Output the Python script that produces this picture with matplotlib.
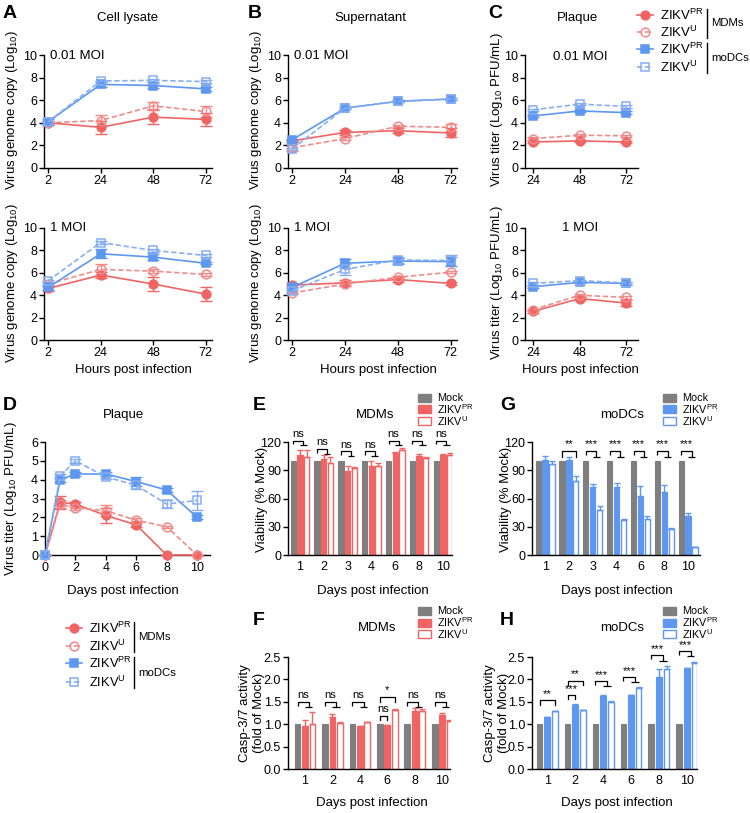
import matplotlib
matplotlib.use('Agg')
import matplotlib.pyplot as plt
from matplotlib.lines import Line2D
from matplotlib.patches import Rectangle
import numpy as np

plt.rcParams['font.family'] = ['Liberation Sans', 'DejaVu Sans']
plt.rcParams['mathtext.fontset'] = 'custom'
plt.rcParams['mathtext.rm'] = 'Liberation Sans'
plt.rcParams['mathtext.it'] = 'Liberation Sans:italic'
plt.rcParams['mathtext.bf'] = 'Liberation Sans:bold'

# ---------------- data ----------------
hours = ['2', '24', '48', '72']
hours_c = ['24', '48', '72']

# A: cell lysate
a1_mdm_pr = [4.0, 3.6, 4.5, 4.3];   a1_mdm_pr_e = [0.2, 0.6, 0.6, 0.6]
a1_mdm_u = [4.0, 4.2, 5.5, 5.0];    a1_mdm_u_e = [0.2, 0.5, 0.3, 0.5]
a1_dc_pr = [4.1, 7.4, 7.3, 7.0];    a1_dc_pr_e = [0.2, 0.2, 0.2, 0.15]
a1_dc_u = [4.1, 7.7, 7.75, 7.65];   a1_dc_u_e = [0.1, 0.1, 0.1, 0.1]
a2_mdm_pr = [4.6, 5.8, 5.0, 4.1];   a2_mdm_pr_e = [0.2, 0.3, 0.6, 0.6]
a2_mdm_u = [5.0, 6.3, 6.15, 5.85];  a2_mdm_u_e = [0.2, 0.5, 0.15, 0.1]
a2_dc_pr = [4.7, 7.7, 7.4, 6.85];   a2_dc_pr_e = [0.2, 0.4, 0.3, 0.1]
a2_dc_u = [5.3, 8.7, 8.0, 7.55];    a2_dc_u_e = [0.1, 0.1, 0.1, 0.1]

# B: supernatant
b1_mdm_pr = [2.4, 3.15, 3.3, 3.1];  b1_mdm_pr_e = [0.1, 0.2, 0.2, 0.4]
b1_mdm_u = [1.8, 2.6, 3.7, 3.6];    b1_mdm_u_e = [0.3, 0.1, 0.1, 0.3]
b1_dc_pr = [2.5, 5.3, 5.9, 6.1];    b1_dc_pr_e = [0.1, 0.1, 0.1, 0.1]
b1_dc_u = [1.7, 5.3, 5.9, 6.1];     b1_dc_u_e = [0.1, 0.1, 0.1, 0.1]
b2_mdm_pr = [4.9, 5.1, 5.4, 5.05];  b2_mdm_pr_e = [0.2, 0.3, 0.2, 0.1]
b2_mdm_u = [4.2, 5.0, 5.6, 6.05];   b2_mdm_u_e = [0.1, 0.1, 0.1, 0.1]
b2_dc_pr = [4.7, 6.85, 7.05, 7.0];  b2_dc_pr_e = [0.2, 0.4, 0.3, 0.4]
b2_dc_u = [4.4, 6.3, 7.15, 7.1];    b2_dc_u_e = [0.2, 0.5, 0.3, 0.5]

# C: plaque
c1_mdm_pr = [2.3, 2.4, 2.3];        c1_mdm_pr_e = [0.1, 0.1, 0.1]
c1_mdm_u = [2.6, 2.9, 2.85];        c1_mdm_u_e = [0.1, 0.1, 0.1]
c1_dc_pr = [4.6, 5.05, 4.9];        c1_dc_pr_e = [0.1, 0.1, 0.1]
c1_dc_u = [5.15, 5.65, 5.45];       c1_dc_u_e = [0.1, 0.1, 0.1]
c2_mdm_pr = [2.55, 3.7, 3.3];       c2_mdm_pr_e = [0.1, 0.15, 0.3]
c2_mdm_u = [2.7, 4.0, 3.8];         c2_mdm_u_e = [0.1, 0.1, 0.1]
c2_dc_pr = [4.75, 5.15, 5.05];      c2_dc_pr_e = [0.1, 0.1, 0.1]
c2_dc_u = [5.05, 5.3, 5.1];         c2_dc_u_e = [0.1, 0.1, 0.1]

# D: plaque over days
d_days = [0, 1, 2, 4, 6, 8, 10]
d_mdm_pr = [0, 2.8, 2.7, 2.1, 1.6, 0, 0];          d_mdm_pr_e = [0, 0.35, 0.1, 0.4, 0.1, 0, 0]
d_mdm_u = [0, 2.7, 2.5, 2.35, 1.85, 1.5, 0];       d_mdm_u_e = [0, 0.2, 0.1, 0.3, 0.1, 0.05, 0]
d_dc_pr = [0, 4.0, 4.3, 4.3, 3.9, 3.45, 2.0];      d_dc_pr_e = [0, 0.1, 0.1, 0.1, 0.25, 0.1, 0.1]
d_dc_u = [0, 4.2, 5.0, 4.15, 3.7, 2.7, 2.9];       d_dc_u_e = [0, 0.1, 0.1, 0.1, 0.2, 0.2, 0.5]

# E / G: viability
ev_days = ['1', '2', '3', '4', '6', '8', '10']
e_mock = [100, 100, 100, 100, 100, 100, 100]
e_pr = [106, 102, 89, 95, 108, 105, 106];   e_pr_e = [6, 4, 6, 5, 1, 2, 1.5]
e_u = [104, 98, 92, 94, 112, 103, 106];     e_u_e = [8, 6, 1.5, 4, 2, 1, 2]
g_mock = [100, 100, 100, 100, 100, 100, 100]
g_pr = [101, 101, 72, 72, 63, 67, 41];      g_pr_e = [4, 3, 3, 4, 10, 7, 4]
g_u = [97, 79, 48, 37, 38, 28, 8];          g_u_e = [3, 5, 4, 1.5, 3, 1, 0.5]

# F / H: caspase 3/7
cs_days = ['1', '2', '4', '6', '8', '10']
f_mock = [1, 1, 1, 1, 1, 1]
f_pr = [0.97, 1.17, 0.96, 0.98, 1.30, 1.21];  f_pr_e = [0.12, 0.05, 0.01, 0.01, 0.06, 0.04]
f_u = [1.00, 1.03, 1.04, 1.31, 1.30, 1.07];   f_u_e = [0.28, 0.02, 0.01, 0.03, 0.05, 0.02]
h_mock = [1, 1, 1, 1, 1, 1]
h_pr = [1.15, 1.43, 1.64, 1.65, 2.06, 2.25];  h_pr_e = [0.01, 0.01, 0.01, 0.01, 0.18, 0.01]
h_u = [1.29, 1.31, 1.50, 1.81, 2.24, 2.37];   h_u_e = [0.01, 0.01, 0.01, 0.01, 0.07, 0.02]

# significance labels
e_sig = ['ns', 'ns', 'ns', 'ns', 'ns', 'ns', 'ns']
g_sig = ['', '**', '***', '***', '***', '***', '***']
f_sig = ['ns', 'ns', 'ns', '*', 'ns', 'ns']
h_sig = ['**', '**', '***', '***', '***', '***']

# ---------------- style ----------------
RED = '#F06464'
RED_L = '#F28A8A'
BLUE = '#5D97F0'
BLUE_L = '#86AEF0'
GRAY = '#7F7F7F'
FS = 9.5
TFS = 9

W, H = 750, 813
fig = plt.figure(figsize=(W / 100, H / 100), dpi=100)


def fx(x):
    return x / W


def fy(y):
    return 1 - y / H


def add_ax(left, right, top, bottom):
    return fig.add_axes([left / W, 1 - bottom / H, (right - left) / W, (bottom - top) / H])


def style(ax):
    for s in ['top', 'right']:
        ax.spines[s].set_visible(False)
    for s in ['left', 'bottom']:
        ax.spines[s].set_linewidth(1.0)
    ax.tick_params(direction='out', length=3.5, width=1, labelsize=TFS, pad=1.5)


DASH = (0, (3.2, 1.6))
STY = {
    'mdm_pr': dict(color=RED, ls='-', marker='o', mfc=RED),
    'mdm_u': dict(color=RED_L, ls=DASH, marker='o', mfc='none'),
    'dc_pr': dict(color=BLUE, ls='-', marker='s', mfc=BLUE),
    'dc_u': dict(color=BLUE_L, ls=DASH, marker='s', mfc='none'),
}


def series(ax, x, y, e, key):
    s = STY[key]
    ax.errorbar(x, y, yerr=e, fmt='none', ecolor=s['color'], elinewidth=1,
                capsize=4, capthick=1, clip_on=False, zorder=3)
    ax.plot(x, y, color=s['color'], ls=s['ls'], lw=1.2, marker=s['marker'],
            mfc=s['mfc'], mec=s['color'], mew=1.1, ms=6.3, clip_on=False, zorder=4)


def line_panel(box, xlabels, data, ylim, yticks, xlim):
    ax = add_ax(*box)
    style(ax)
    x = np.arange(len(xlabels))
    for key, (y, e) in data.items():
        series(ax, x, y, e, key)
    ax.set_xlim(*xlim)
    ax.set_ylim(*ylim)
    ax.set_yticks(yticks)
    ax.set_xticks(x)
    ax.set_xticklabels(xlabels)
    return ax


# ---------------- A, B, C ----------------
AX_A = (44, 212)
AX_B = (288, 457)
AX_C = (525, 638)
R1 = (55, 168)
R2 = (228, 340)
xl4 = (-0.08, 3.12)
xl3 = (-0.17, 2.25)
yt10 = [0, 2, 4, 6, 8, 10]

line_panel(AX_A + R1, hours, {
    'mdm_pr': (a1_mdm_pr, a1_mdm_pr_e), 'mdm_u': (a1_mdm_u, a1_mdm_u_e),
    'dc_pr': (a1_dc_pr, a1_dc_pr_e), 'dc_u': (a1_dc_u, a1_dc_u_e)}, (0, 10), yt10, xl4)
line_panel(AX_A + R2, hours, {
    'mdm_pr': (a2_mdm_pr, a2_mdm_pr_e), 'mdm_u': (a2_mdm_u, a2_mdm_u_e),
    'dc_pr': (a2_dc_pr, a2_dc_pr_e), 'dc_u': (a2_dc_u, a2_dc_u_e)}, (0, 10), yt10, xl4)
line_panel(AX_B + R1, hours, {
    'mdm_pr': (b1_mdm_pr, b1_mdm_pr_e), 'mdm_u': (b1_mdm_u, b1_mdm_u_e),
    'dc_pr': (b1_dc_pr, b1_dc_pr_e), 'dc_u': (b1_dc_u, b1_dc_u_e)}, (0, 10), yt10, xl4)
line_panel(AX_B + R2, hours, {
    'mdm_pr': (b2_mdm_pr, b2_mdm_pr_e), 'mdm_u': (b2_mdm_u, b2_mdm_u_e),
    'dc_pr': (b2_dc_pr, b2_dc_pr_e), 'dc_u': (b2_dc_u, b2_dc_u_e)}, (0, 10), yt10, xl4)
line_panel(AX_C + R1, hours_c, {
    'mdm_pr': (c1_mdm_pr, c1_mdm_pr_e), 'mdm_u': (c1_mdm_u, c1_mdm_u_e),
    'dc_pr': (c1_dc_pr, c1_dc_pr_e), 'dc_u': (c1_dc_u, c1_dc_u_e)}, (0, 10), yt10, xl3)
line_panel(AX_C + R2, hours_c, {
    'mdm_pr': (c2_mdm_pr, c2_mdm_pr_e), 'mdm_u': (c2_mdm_u, c2_mdm_u_e),
    'dc_pr': (c2_dc_pr, c2_dc_pr_e), 'dc_u': (c2_dc_u, c2_dc_u_e)}, (0, 10), yt10, xl3)

# D
axd = add_ax(45, 210, 442, 555)
style(axd)
for key, (y, e) in {'mdm_pr': (d_mdm_pr, d_mdm_pr_e), 'mdm_u': (d_mdm_u, d_mdm_u_e),
                    'dc_pr': (d_dc_pr, d_dc_pr_e), 'dc_u': (d_dc_u, d_dc_u_e)}.items():
    series(axd, d_days, y, e, key)
axd.set_xlim(0, 10.85)
axd.set_ylim(0, 6)
axd.set_xticks([0, 2, 4, 6, 8, 10])
axd.set_yticks([0, 1, 2, 3, 4, 5, 6])


# ---------------- bar panels ----------------
def bracket_combined(ax, c, d, top, low, leg, txt, ty):
    kw = dict(color='black', lw=0.9, clip_on=False, solid_capstyle='butt')
    ax.plot([c - d, c - d, c + d / 2, c + d / 2], [top - leg, top, top, low], **kw)
    ax.plot([c, c + d], [low, low], **kw)
    ax.text(c - d / 4, ty, txt, ha='center', va='bottom', fontsize=8, clip_on=False)


def bracket_simple(ax, x1, x2, top, leg, txt, ty):
    kw = dict(color='black', lw=0.9, clip_on=False)
    ax.plot([x1, x1, x2, x2], [top - leg, top, top, top - leg], **kw)
    ax.text((x1 + x2) / 2, ty, txt, ha='center', va='bottom', fontsize=8, clip_on=False)


def bar_panel(box, labels, mock, pr, pr_e, u, u_e, col, xlim, ylim, yticks, d, bw):
    ax = add_ax(*box)
    style(ax)
    x = np.arange(len(labels))
    ax.bar(x - d, mock, width=bw, color=GRAY, edgecolor=GRAY, lw=0.8, zorder=2)
    ax.bar(x, pr, width=bw, color=col, edgecolor=col, lw=0.8, zorder=2)
    ax.bar(x + d, u, width=bw, facecolor='white', edgecolor=col, lw=1.0, zorder=2)
    z = np.zeros(len(labels))
    ax.errorbar(x, pr, yerr=[z, pr_e], fmt='none', ecolor=col, elinewidth=1, capsize=2.5, capthick=1, zorder=3)
    ax.errorbar(x + d, u, yerr=[z, u_e], fmt='none', ecolor=col, elinewidth=1, capsize=2.5, capthick=1, zorder=3)
    ax.set_xlim(*xlim)
    ax.set_ylim(*ylim)
    ax.set_yticks(yticks)
    ax.set_xticks(x)
    ax.set_xticklabels(labels)
    ax.tick_params(axis='x', length=0, pad=4)
    return ax


def bar_legend(x, ys, col):
    items = [('Mock', GRAY, GRAY), (r'ZIKV$^{\mathrm{PR}}$', col, col), (r'ZIKV$^{\mathrm{U}}$', 'white', col)]
    for (lab, fc, ec), y in zip(items, ys):
        fig.add_artist(Rectangle((fx(x), fy(y + 4)), 13 / W, 8 / H, transform=fig.transFigure,
                                 facecolor=fc, edgecolor=ec, lw=1))
        fig.text(fx(x + 19), fy(y), lab, fontsize=7.8, va='center', ha='left')


# E
axe = bar_panel((288, 452, 442, 555), ev_days, e_mock, e_pr, e_pr_e, e_u, e_u_e, RED,
                (-0.5, 6.38), (0, 120), [0, 30, 60, 90, 120], 0.28, 0.22)
e_top = [121.5, 112.5, 110, 110, 121.5, 121.5, 121.5]
for i, tp in enumerate(e_top):
    bracket_combined(axe, i, 0.28, tp, tp - 5, 4, e_sig[i], tp + 2)

# G
axg = bar_panel((532, 700, 442, 555), ev_days, g_mock, g_pr, g_pr_e, g_u, g_u_e, BLUE,
                (-0.55, 6.5), (0, 120), [0, 30, 60, 90, 120], 0.29, 0.22)
bracket_simple(axg, 1 - 0.29, 1 + 0.29, 110.5, 6, g_sig[1], 112.5)
for i in range(2, 7):
    bracket_combined(axg, i, 0.29, 110, 104, 4, g_sig[i], 112)

# F
axf = bar_panel((288, 450, 657, 769), cs_days, f_mock, f_pr, f_pr_e, f_u, f_u_e, RED,
                (-0.62, 5.29), (0, 2.5), [0, 0.5, 1.0, 1.5, 2.0, 2.5], 0.27, 0.21)
for i in [0, 1, 2, 4, 5]:
    bracket_combined(axf, i, 0.27, 1.50, 1.38, 0.09, f_sig[i], 1.53)
bracket_simple(axf, 3 - 0.27, 3 + 0.27, 1.61, 0.11, f_sig[3], 1.64)
bracket_simple(axf, 3 - 0.27, 3, 1.19, 0.10, 'ns', 1.22)
axf.set_yticklabels(['0.0', '0.5', '1.0', '1.5', '2.0', '2.5'])

# H
axh = bar_panel((532, 697, 657, 769), cs_days, h_mock, h_pr, h_pr_e, h_u, h_u_e, BLUE,
                (-0.54, 5.36), (0, 2.5), [0, 0.5, 1.0, 1.5, 2.0, 2.5], 0.27, 0.21)
bracket_simple(axh, 0 - 0.27, 0 + 0.27, 1.54, 0.11, h_sig[0], 1.57)
bracket_simple(axh, 1 - 0.27, 1, 1.65, 0.09, '***', 1.68)
bracket_simple(axh, 1 - 0.27, 1 + 0.27, 1.97, 0.09, h_sig[1], 2.0)
h_top = [None, None, 1.97, 2.06, 2.54, 2.64]
for i in range(2, 6):
    bracket_combined(axh, i, 0.27, h_top[i], h_top[i] - 0.12, 0.09, h_sig[i], h_top[i] + 0.02)
axh.set_yticklabels(['0.0', '0.5', '1.0', '1.5', '2.0', '2.5'])


# ---------------- texts ----------------
def t(x, y, s, **kw):
    kw.setdefault('fontsize', FS)
    kw.setdefault('ha', 'center')
    kw.setdefault('va', 'center')
    fig.text(fx(x), fy(y), s, **kw)


for lab, x, y in [('A', 3, 13), ('B', 248, 13), ('C', 488, 13), ('D', 3, 405),
                  ('E', 253, 405), ('G', 500, 405), ('F', 253, 620), ('H', 500, 620)]:
    t(x, y, lab, fontsize=14, fontweight='bold', ha='left')

t(128, 18, 'Cell lysate')
t(370, 18, 'Supernatant')
t(578, 18, 'Plaque')
t(123, 415, 'Plaque')
t(375, 415, 'MDMs')
t(622, 415, 'moDCs')
t(377, 628, 'MDMs')
t(622, 628, 'moDCs')

t(50, 56, '0.01 MOI', ha='left')
t(294, 56, '0.01 MOI', ha='left')
t(580, 57, '0.01 MOI')
t(50, 228, '1 MOI', ha='left')
t(294, 228, '1 MOI', ha='left')
t(580, 228, '1 MOI')

t(133, 370, 'Hours post infection')
t(378, 370, 'Hours post infection')
t(580, 370, 'Hours post infection')
t(123, 591, 'Days post infection')
t(373, 591, 'Days post infection')
t(617, 591, 'Days post infection')
t(372, 803, 'Days post infection')
t(617, 803, 'Days post infection')

ylab_g = r'Virus genome copy (Log$_{10}$)'
ylab_t = r'Virus titer (Log$_{10}$ PFU/mL)'
t(12, 110, ylab_g, rotation=90)
t(12, 283, ylab_g, rotation=90)
t(256, 110, ylab_g, rotation=90)
t(256, 283, ylab_g, rotation=90)
t(497, 110, ylab_t, rotation=90)
t(497, 283, ylab_t, rotation=90)
t(11, 499, ylab_t, rotation=90)
t(262, 499, 'Viability (% Mock)', rotation=90)
t(506, 499, 'Viability (% Mock)', rotation=90)
t(252, 713, 'Casp-3/7 activity\n(fold of Mock)', rotation=90)
t(497, 713, 'Casp-3/7 activity\n(fold of Mock)', rotation=90)

# bar legends
bar_legend(418, [398, 409.5, 421], RED)
bar_legend(663, [398, 409.5, 421], BLUE)
bar_legend(418, [611, 622.5, 634], RED)
bar_legend(663, [611, 622.5, 634], BLUE)


# line legends
def line_legend(xm, ys, fs, xbar, gfs):
    entries = [('mdm_pr', r'ZIKV$^{\mathrm{PR}}$'), ('mdm_u', r'ZIKV$^{\mathrm{U}}$'),
               ('dc_pr', r'ZIKV$^{\mathrm{PR}}$'), ('dc_u', r'ZIKV$^{\mathrm{U}}$')]
    for (key, lab), y in zip(entries, ys):
        s = STY[key]
        fig.add_artist(Line2D([fx(xm - 8), fx(xm + 8)], [fy(y), fy(y)], transform=fig.transFigure,
                              color=s['color'], ls=s['ls'], lw=1.2))
        fig.add_artist(Line2D([fx(xm)], [fy(y)], transform=fig.transFigure, marker=s['marker'],
                              mfc=s['mfc'], mec=s['color'], mew=1.1, ms=6.3, ls='none'))
        fig.text(fx(xm + 15), fy(y), lab, fontsize=fs, va='center', ha='left')
    for (y1, y2), g in [((ys[0] - 6, ys[1] + 6), 'MDMs'), ((ys[2] - 6, ys[3] + 6), 'moDCs')]:
        fig.add_artist(Line2D([fx(xbar), fx(xbar)], [fy(y1), fy(y2)], transform=fig.transFigure,
                              color='black', lw=1))
        fig.text(fx(xbar + 4), fy((y1 + y2) / 2), g, fontsize=gfs, va='center', ha='left')


line_legend(645, [15, 32, 49, 67], 9.5, 707, 8.2)
line_legend(74, [628, 646, 663, 682], 9.3, 134, 8.2)

fig.savefig('out.png', dpi=100)
